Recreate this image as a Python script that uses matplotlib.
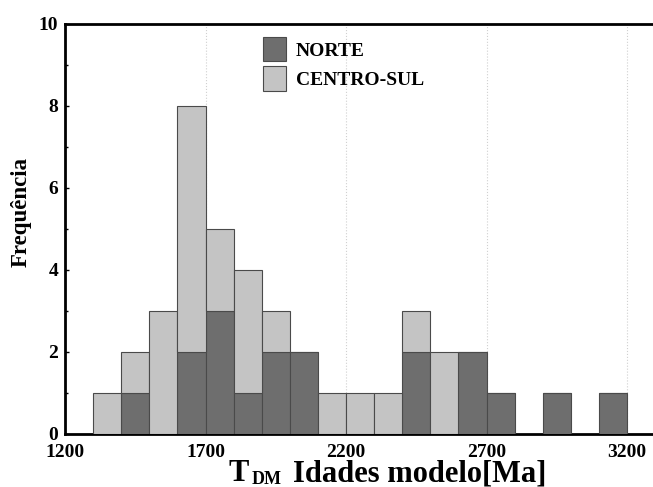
import matplotlib
matplotlib.use("Agg")
import matplotlib.pyplot as plt
from matplotlib.ticker import MultipleLocator, FixedLocator

bin_left = [1300, 1400, 1500, 1600, 1700, 1800, 1900, 2000, 2100, 2200,
            2300, 2400, 2500, 2600, 2700, 2800, 2900, 3000, 3100]
norte = [0, 1, 0, 2, 3, 1, 2, 2, 0, 0, 0, 2, 0, 2, 1, 0, 1, 0, 1]
centro_sul = [1, 1, 3, 6, 2, 3, 1, 0, 1, 1, 1, 1, 2, 0, 0, 0, 0, 0, 0]
xticks = [1200, 1700, 2200, 2700, 3200]
yticks = [0, 2, 4, 6, 8, 10]

plt.rcParams['font.family'] = ['Liberation Serif', 'DejaVu Serif']
plt.rcParams['font.weight'] = 'bold'

W, H = 653, 487
fig = plt.figure(figsize=(W/100, H/100), dpi=100)
ax = fig.add_axes([65/W, 1-434/H, (W-65)/W, (434-24)/H])

dark = '#6e6e6e'
light = '#c4c4c4'
edge = '#4a4a4a'
ax.bar(bin_left, norte, width=100, align='edge', color=dark, edgecolor=edge,
       linewidth=0.8, label='NORTE', zorder=3)
ax.bar(bin_left, centro_sul, width=100, align='edge', bottom=norte, color=light,
       edgecolor=edge, linewidth=0.8, label='CENTRO-SUL', zorder=3)

ax.set_xlim(1200, 3292)
ax.set_ylim(0, 10)
ax.xaxis.set_major_locator(FixedLocator(xticks))
ax.yaxis.set_major_locator(FixedLocator(yticks))
ax.yaxis.set_minor_locator(MultipleLocator(1))
ax.grid(axis='x', linestyle=':', color='#d0d0d0', linewidth=0.8, zorder=0)
ax.tick_params(axis='y', which='major', direction='in', length=3, width=1,
               labelsize=14, pad=5)
ax.tick_params(axis='y', which='minor', direction='in', length=2, width=1)
ax.tick_params(axis='x', length=0, labelsize=14, pad=7)
for lab in ax.get_xticklabels() + ax.get_yticklabels():
    lab.set_fontweight('bold')
for lab in ax.get_yticklabels():
    lab.set_verticalalignment('center_baseline')
for s in ['top', 'left', 'bottom']:
    ax.spines[s].set_linewidth(2)
    ax.spines[s].set_color('black')
ax.spines['right'].set_visible(False)

fig.text(21/W, 1-212/H, 'Frequência', rotation=90, ha='center', va='center',
         fontsize=16.5, fontweight='bold')
fig.text(228/W, 1-481/H, 'T', ha='left', va='baseline', fontsize=22, fontweight='bold')
fig.text(252/W, 1-484/H, 'DM', ha='left', va='baseline', fontsize=13, fontweight='bold')
fig.text(293/W, 1-481/H, 'Idades modelo[Ma]', ha='left', va='baseline',
         fontsize=22, fontweight='bold')

leg = ax.legend(loc='upper left', bbox_to_anchor=((263-65)/(W-65), 1-13/410),
                frameon=False, fontsize=14, handlelength=1.2, handleheight=1.55,
                handletextpad=0.5, labelspacing=0.25, borderaxespad=0, borderpad=0)
for t in leg.get_texts():
    t.set_fontweight('bold')

fig.savefig('out.png', dpi=100)
